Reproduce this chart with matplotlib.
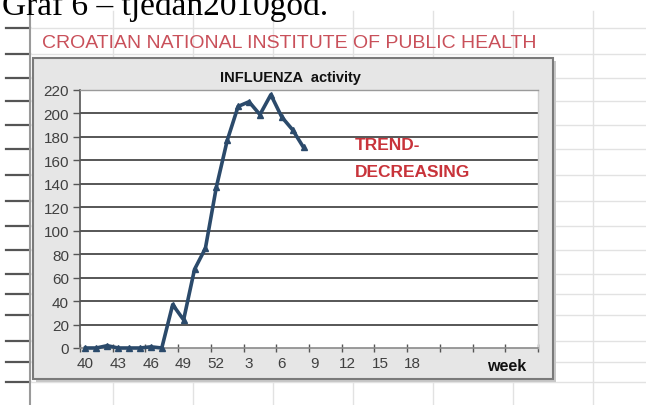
import matplotlib
matplotlib.use("Agg")
import matplotlib.pyplot as plt
from matplotlib.patches import Rectangle
from matplotlib.lines import Line2D

# ---- data ----
categories = [str(w) for w in range(40, 53)] + [str(w) for w in range(1, 30)]
influenza = [0, 0, 2, 0, 0, 0, 1, 0, 37, 24, 67, 85, 137, 177, 206, 210, 199, 216, 197, 186, 171]
x_tick_labels = ['40', '43', '46', '49', '52', '3', '6', '9', '12', '15', '18', '', '', '']
y_ticks = list(range(0, 221, 20))

W, H = 646, 406
fig = plt.figure(figsize=(W / 100, H / 100), dpi=100)
fig.patch.set_facecolor('white')

# spreadsheet background grid
row_ys = [29, 55, 79, 102, 126, 150, 176, 202, 227, 251, 275, 295, 316, 342, 363, 383]
col_xs = [113, 193, 273, 353, 433, 513, 593]
for y in row_ys:
    fig.add_artist(Line2D([32 / W, 1], [1 - y / H] * 2, color='#e2e2e2', lw=1.0, zorder=0))
    fig.add_artist(Line2D([6 / W, 30 / W], [1 - y / H] * 2, color='#555555', lw=1.6, zorder=0))
for x in col_xs:
    fig.add_artist(Line2D([x / W] * 2, [0, 1 - 12 / H], color='#e2e2e2', lw=1.0, zorder=0))
fig.add_artist(Line2D([30 / W] * 2, [0, 1 - 10 / H], color='#9a9a9a', lw=1.5, zorder=0))

# heading at the very top (cut off in the source screenshot)
fig.text(2 / W, 1 - 15 / H, 'Graf 6 – tjedan2010god.', family='Liberation Serif',
         fontsize=24, color='black', va='baseline', ha='left')

# institute line
fig.text(289 / W, 1 - 44 / H, 'CROATIAN NATIONAL INSTITUTE OF PUBLIC HEALTH',
         family='Liberation Sans', fontsize=14,
         color='#c9505a', va='center', ha='center')

# chart area box (with slight shadow)
fig.add_artist(Rectangle((36 / W, 1 - 383 / H), 520 / W, 321 / H, transform=fig.transFigure,
                         facecolor='#c8c8c8', edgecolor='none', zorder=1))
fig.add_artist(Rectangle((33 / W, 1 - 380 / H), 520 / W, 321 / H, transform=fig.transFigure,
                         facecolor='#e6e6e6', edgecolor='#7a7a7a', lw=1.5, zorder=1))

# plot area
left, right, top, bottom = 80, 538, 91, 349
ax = fig.add_axes([left / W, 1 - bottom / H, (right - left) / W, (bottom - top) / H], zorder=2)
ax.set_facecolor('white')

x = list(range(len(influenza)))
ax.plot(x, influenza, color='#2b4a6b', lw=2.6, marker='^', markersize=4.5,
        markerfacecolor='#2b4a6b', markeredgecolor='#2b4a6b', zorder=3, clip_on=False)

ax.set_xlim(-0.5, len(categories) - 0.5)
ax.set_ylim(0, 220)
ax.set_yticks(y_ticks)
ax.set_yticklabels([str(v) for v in y_ticks])
for v in y_ticks[1:]:
    ax.axhline(v, color='#3a3a3a', lw=1.2, zorder=1)

# x ticks: major at category boundaries (tick marks), minor at centres (labels)
ax.set_xticks([i - 0.5 for i in range(0, len(categories) + 1, 3)])
ax.set_xticklabels([])
ax.set_xticks(list(range(0, len(categories), 3)), minor=True)
ax.set_xticklabels(x_tick_labels, minor=True)
ax.tick_params(axis='x', which='major', direction='inout', length=6, width=1, color='#555555')
ax.tick_params(axis='x', which='minor', length=0, pad=6, labelsize=11, labelcolor='#404040')
ax.tick_params(axis='y', direction='out', length=5, width=1, color='#555555',
               labelsize=11, labelcolor='#404040', pad=3)
for lab in ax.get_xticklabels(minor=True) + ax.get_yticklabels():
    lab.set_family('Liberation Sans')

ax.spines['left'].set_color('#555555')
ax.spines['left'].set_linewidth(1.2)
ax.spines['bottom'].set_color('#8a8a8a')
ax.spines['bottom'].set_linewidth(1.2)
ax.spines['top'].set_color('#9a9a9a')
ax.spines['top'].set_linewidth(1.0)
ax.spines['right'].set_color('#d0d0d0')
ax.spines['right'].set_linewidth(1.0)

# titles / annotations
fig.text(290 / W, 1 - 78 / H, 'INFLUENZA  activity', family='Liberation Sans',
         fontweight='bold', fontsize=10.5, color='#111111', ha='center', va='center')
fig.text(355 / W, 1 - 146 / H, 'TREND-', family='Liberation Sans', fontweight='bold',
         fontsize=12.5, color='#c8333a', ha='left', va='center', zorder=5)
fig.text(355 / W, 1 - 173 / H, 'DECREASING', family='Liberation Sans', fontweight='bold',
         fontsize=12.5, color='#c8333a', ha='left', va='center', zorder=5)
fig.text(526 / W, 1 - 367 / H, 'week', family='Liberation Sans', fontweight='bold',
         fontsize=11.5, color='#111111', ha='right', va='center', zorder=5)

fig.savefig('out.png', dpi=100)
